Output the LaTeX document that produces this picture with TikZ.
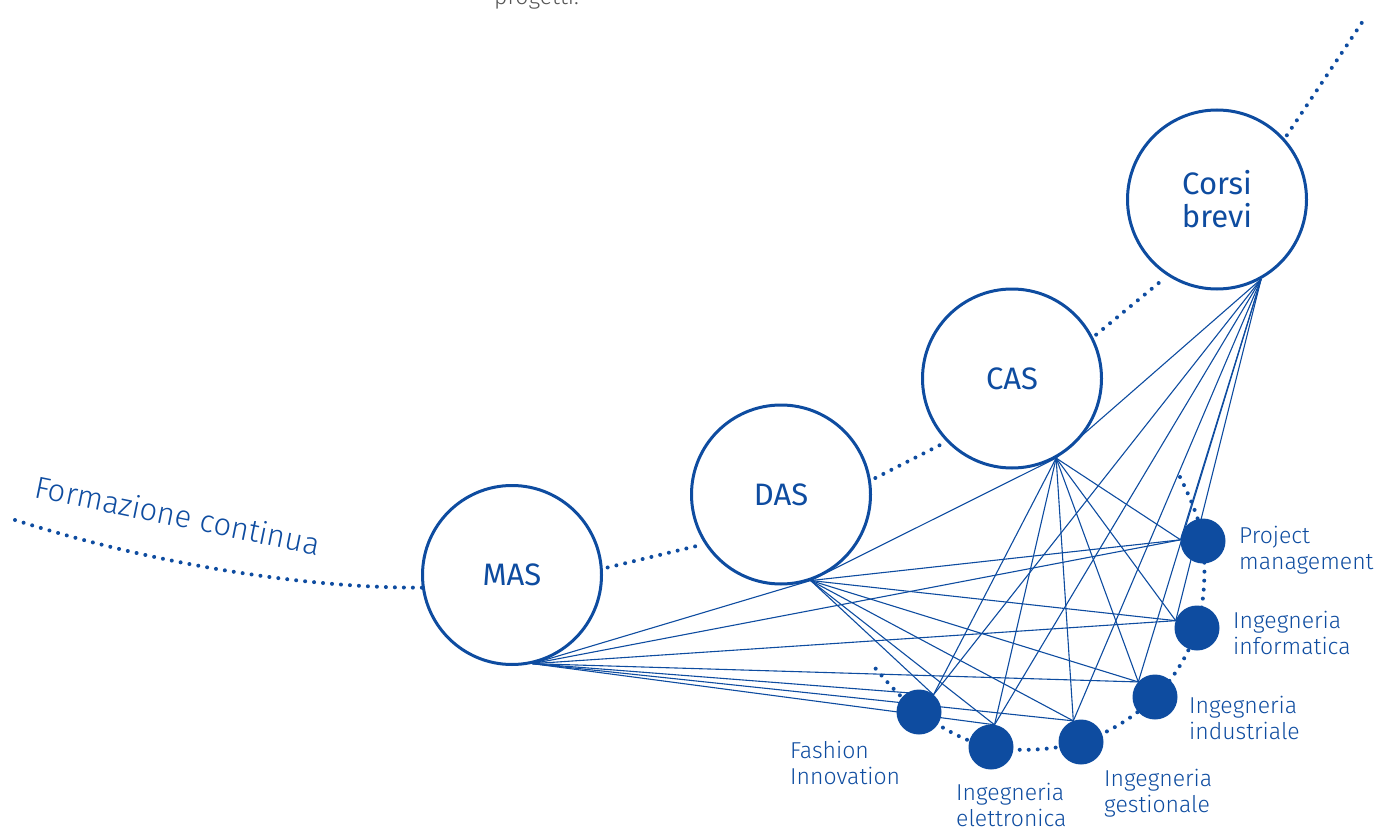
\documentclass[tikz,border=0pt]{standalone}
\usepackage{fontspec}
\IfFontExistsTF{Fira Sans Light}
  {\setmainfont{Fira Sans Light}}
  {\setmainfont{Fira Sans}}
\newfontfamily\regfont{Fira Sans}
\pgfdeclarelayer{edges}
\pgfsetlayers{edges,main}
\definecolor{unisblue}{RGB}{14,76,160}
\definecolor{textgrey}{RGB}{85,85,85}

\begin{document}
\begin{tikzpicture}[x=1pt,y=-1pt,
  bigcirc/.style={circle,draw=unisblue,line width=3pt,fill=white,minimum size=179pt,
    inner sep=0pt,text=unisblue,align=center,font=\regfont\fontsize{31}{33}\selectfont},
  dotcirc/.style={circle,fill=unisblue,minimum size=45pt,inner sep=0pt,outer sep=0pt},
  lbl/.style={text=unisblue,font=\fontsize{23}{26.5}\selectfont,align=left,
    anchor=base west,inner sep=0pt},
  link/.style={draw=unisblue,line width=1.1pt},
  dots/.style={draw=unisblue,line width=4pt,line cap=round,dash pattern=on 0pt off 9pt}]
\useasboundingbox (0,0) rectangle (1376,829);
\clip (0,0) rectangle (1376,829);

% course types
\node[bigcirc] (MAS) at (512,575) {MAS};
\node[bigcirc] (DAS) at (781,494.5) {DAS};
\node[bigcirc] (CAS) at (1012,378.5) {CAS};
\node[bigcirc] (CB) at (1217,199.5) {Corsi\\brevi};

% subject areas
\node[dotcirc] (fi)  at (919,712) {};
\node[dotcirc] (el)  at (991,747) {};
\node[dotcirc] (ge)  at (1081,742) {};
\node[dotcirc] (ind) at (1155,697) {};
\node[dotcirc] (inf) at (1197,628) {};
\node[dotcirc] (pm)  at (1203,541) {};

% labels of the subject areas (placed by the baseline of their last line)
\node[lbl] (pml)  at (1239,569.5) {Project\\management};
\node[lbl] (infl) at (1233,654.5) {Ingegneria\\informatica};
\node[lbl] (indl) at (1189,739.5) {Ingegneria\\industriale};
\node[lbl] (gel)  at (1104,812.5) {Ingegneria\\gestionale};
\node[lbl] (ell)  at (956,826.5) {Ingegneria\\elettronica};
\node[lbl] (fil)  at (790,784.5) {Fashion\\Innovation};

\node[lbl,rotate=-11.6,font=\fontsize{31}{35}\selectfont] (fc) at (33,497) {Formazione continua};
\node[lbl,text=textgrey] (prog) at (494,5) {progetti.};

% loose ends of the dotted paths
\coordinate (fstart) at (15,520);
\coordinate (fend) at (1365,18);
\coordinate (arcstart) at (1180,477);
\coordinate (arcend) at (871,663);

% anchor points where the links meet the circles
\coordinate (pMAS) at (MAS.-77);
\coordinate (pDAS) at (DAS.-71);
\coordinate (pCAS) at (CAS.-61);
\coordinate (pCB)  at (CB.-61);
\coordinate (pfi)  at (fi.50);
\coordinate (pel)  at (el.81);
\coordinate (pge)  at (ge.110);
\coordinate (pind) at (ind.138);
\coordinate (pinf) at (inf.161);
\coordinate (ppm)  at (pm.177);

\begin{pgfonlayer}{edges}
  % dotted course path
  \draw[dots] (fstart) .. controls (150,563) and (300,588) .. (MAS.188);
  \draw[dots,shorten <=5pt,shorten >=4pt] (MAS.4) -- (DAS.213);
  \draw[dots,shorten <=5pt,shorten >=4pt] (DAS.9) -- (CAS.224);
  \draw[dots,shorten <=4pt,shorten >=4pt] (CAS.27) -- (CB.237);
  \draw[dots,shorten <=4pt] (CB.42) -- (fend);
  % dotted arc along the subject areas
  \draw[dots] plot[smooth,tension=0.6] coordinates {(arcstart) (pm) (inf) (ind) (ge) (el) (fi) (arcend)};
  % links between course types
  \draw[link] (pMAS) -- (pDAS);
  \draw[link] (pDAS) -- (pCAS);
  \draw[link] (pCAS) -- (pCB);
  % links from every course type to every subject area
  \foreach \b in {pMAS,pDAS,pCAS,pCB}
    \foreach \s in {pfi,pel,pge,pind,pinf,ppm}
      \draw[link] (\b) -- (\s);
\end{pgfonlayer}
\end{tikzpicture}
\end{document}
